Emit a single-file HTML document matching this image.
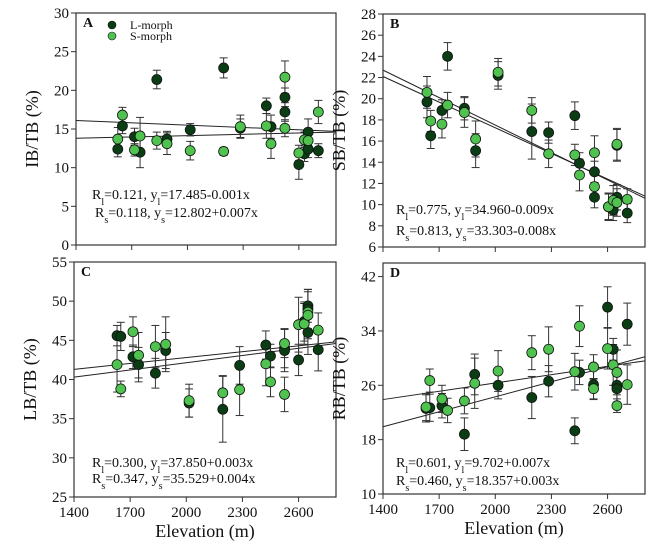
<!DOCTYPE html>
<html><head><meta charset="utf-8"><style>
body{margin:0;background:#fff}
svg{display:block;font-family:"Liberation Serif",serif}
</style></head><body>
<svg id="chart" width="670" height="547" viewBox="0 0 670 547"></svg>
<script>
// shared
const xTicks=[1400,1700,2000,2300,2600];
// Panel A
const aLx=[1625,1650,1715,1745,1835,1890,2015,2195,2285,2425,2450,2525,2525,2600,2630,2650,2650,2705];
const aLy=[12.4,15.4,14.0,12.0,21.4,13.7,14.9,22.9,15.1,18.0,15.3,19.1,17.2,10.4,11.8,12.4,14.6,12.2];
const aLe=[1.0,1.0,1.1,2.0,1.2,1.0,0.8,1.3,1.2,1.0,1.5,1.2,1.2,1.9,1.0,1.1,1.7,0.9];
const aSx=[1625,1650,1715,1745,1835,1890,2015,2195,2285,2425,2450,2525,2525,2600,2630,2650,2705];
const aSy=[13.7,16.8,12.3,14.1,13.5,13.1,12.2,12.1,15.3,15.4,13.1,21.7,15.1,11.9,13.6,13.5,17.2];
const aSe=[1.5,1.0,0.8,2.4,1.1,1.4,1.2,0.5,1.5,1.6,1.9,2.1,1.1,1.0,1.0,1.2,1.5];
const aLine=[[16.1,14.7],[13.8,14.6]];
const aYTicks=[0,5,10,15,20,25,30];
// Panel B
const bLx=[1635,1655,1715,1745,1835,1895,2015,2195,2285,2425,2450,2530,2530,2605,2630,2650,2650,2705];
const bLy=[19.7,16.5,18.9,24.0,19.1,15.1,22.2,16.9,16.8,18.4,13.9,13.1,10.7,9.8,9.5,10.7,15.6,9.2];
const bLe=[1.5,1.2,1.0,1.3,1.1,1.6,1.3,2.6,1.0,1.3,1.0,1.0,1.0,1.2,1.0,1.2,1.5,0.9];
const bSx=[1635,1655,1715,1745,1835,1895,2015,2195,2285,2425,2450,2530,2530,2605,2630,2650,2650,2705];
const bSy=[20.6,17.9,17.6,19.4,18.7,16.2,22.5,18.9,14.8,14.7,12.8,14.9,11.7,9.8,10.4,10.2,15.7,10.5];
const bSe=[1.5,1.0,1.3,1.2,1.4,1.7,1.3,1.2,1.3,1.0,1.5,1.6,1.2,1.3,1.4,1.3,1.5,1.0];
const bLine=[[22.7,10.6],[22.1,10.8]];
const bYTicks=[6,8,10,12,14,16,18,20,22,24,26,28];
// Panel C
const cLx=[1630,1650,1715,1745,1835,1890,2015,2195,2285,2425,2450,2525,2525,2600,2630,2650,2650,2650,2705];
const cLy=[45.6,45.5,42.9,41.9,40.8,43.7,37.0,36.2,41.8,44.4,43.0,44.0,43.7,42.5,47.4,49.4,49.0,46.0,43.8];
const cLe=[1.3,1.8,1.5,2.2,1.9,2.3,1.8,4.2,2.4,1.8,1.5,2.5,2.7,2.0,2.5,2.1,2.5,2.8,2.7];
const cSx=[1630,1650,1715,1745,1835,1890,2015,2195,2285,2425,2450,2525,2525,2600,2630,2650,2650,2705];
const cSy=[41.9,38.8,46.1,43.1,44.2,44.5,37.3,38.3,38.7,42.0,39.7,44.6,38.1,47.0,47.1,48.6,48.2,46.3];
const cSe=[3.5,1.0,1.9,2.9,2.7,3.5,2.1,2.2,3.3,2.8,1.9,1.8,2.2,3.5,2.6,2.9,3.0,2.2];
const cLine=[[41.3,44.8],[40.3,44.6]];
const cYTicks=[25,30,35,40,45,50,55];
// Panel D
const dLx=[1630,1650,1715,1835,1890,2015,2195,2285,2425,2450,2525,2600,2630,2650,2650,2705];
const dLy=[22.6,22.7,23.0,18.8,27.6,26.0,24.2,26.6,19.3,27.9,26.1,37.5,31.3,26.0,25.5,35.0];
const dLe=[2.0,2.0,1.8,2.4,3.0,2.0,3.1,2.3,1.9,1.8,2.2,3.0,1.6,2.5,2.0,3.1];
const dSx=[1630,1650,1715,1745,1835,1890,2015,2195,2285,2425,2450,2525,2525,2600,2630,2650,2650,2705];
const dSy=[22.8,26.7,24.0,22.3,23.7,26.3,28.1,30.8,31.3,28.0,34.7,28.7,25.5,31.4,29.0,27.9,23.0,26.1];
const dSe=[2.0,1.7,2.0,1.8,1.9,3.7,3.0,2.5,3.3,2.7,3.0,1.8,1.5,3.0,3.0,3.3,1.0,2.9];
const dLine=[[23.9,29.6],[19.9,30.2]];
const dYTicks=[10,18,26,34,42];

const svg=document.getElementById('chart');
const NS='http://www.w3.org/2000/svg';
function mk(tag,attrs,parent){const e=document.createElementNS(NS,tag);for(const k in attrs)e.setAttribute(k,attrs[k]);(parent||svg).appendChild(e);return e;}
const DARK='#0b3d14',LIGHT='#4fc24f';

function panel(id,box,ymin,ymax,yticks,L,S,lines,ytitle,letter,ann,annPos,xlabel,legend){
  const g=mk('g',{});
  
  
  const xs=v=>box.x0+(v-1400)/(2800-1400)*(box.x1-box.x0);
  const ys=v=>box.y1-(v-ymin)/(ymax-ymin)*(box.y1-box.y0);
  const frame=mk('rect',{x:box.x0,y:box.y0,width:box.x1-box.x0,height:box.y1-box.y0,fill:'none',stroke:'#333','stroke-width':1.2},g);
  
  
  yticks.forEach(t=>{
    mk('line',{x1:box.x0-5,x2:box.x0,y1:ys(t),y2:ys(t),stroke:'#333'},g);
    const tx=mk('text',{x:box.x0-7,y:ys(t)+5,'text-anchor':'end','font-size':15,fill:'#111'},g);
    tx.textContent=t;
    
    
  });
  xTicks.forEach(t=>{
    mk('line',{x1:xs(t),x2:xs(t),y1:box.y1,y2:box.y1+5,stroke:'#333'},g);
    if(xlabel){
      const tx=mk('text',{x:xs(t),y:box.y1+20,'text-anchor':'middle','font-size':15,fill:'#111'},g);
      tx.textContent=t;
      
      
    }
  });
  lines.forEach((ln,i)=>{
    const l=mk('line',{x1:xs(1400),y1:ys(ln[0]),x2:xs(2800),y2:ys(ln[1]),stroke:'#222','stroke-width':1},g);
    
    
  });
  [[L,DARK,'l-morph'],[S,LIGHT,'s-morph']].forEach(([s,col,nm])=>{
    s[0].forEach((x,i)=>{
      const cx=xs(x),cy=ys(s[1][i]),e=s[2][i];
      mk('line',{x1:cx,x2:cx,y1:ys(s[1][i]+e),y2:ys(s[1][i]-e),stroke:'#333'},g);
      mk('line',{x1:cx-4,x2:cx+4,y1:ys(s[1][i]+e),y2:ys(s[1][i]+e),stroke:'#333'},g);
      mk('line',{x1:cx-4,x2:cx+4,y1:ys(s[1][i]-e),y2:ys(s[1][i]-e),stroke:'#333'},g);
    });
  });
  [[L,DARK,'l-morph'],[S,LIGHT,'s-morph']].forEach(([s,col,nm])=>{
    s[0].forEach((x,i)=>{
      const c=mk('circle',{cx:xs(x),cy:ys(s[1][i]),r:5,fill:col,stroke:'#111','stroke-width':0.8},g);
      
      
    });
  });
  const lt=mk('text',{x:box.x0+7,y:box.y0+14,'font-size':14,'font-weight':'bold',fill:'#111'},g);
  lt.textContent=letter;
  
  
  const cy=(box.y0+box.y1)/2;
  const yt=mk('text',{x:box.x0-38,y:cy,'text-anchor':'middle','font-size':18,fill:'#111',transform:`rotate(-90 ${box.x0-38} ${cy})`},g);
  yt.textContent=ytitle;
  
  
  ann.forEach((a,i)=>{
    const t=mk('text',{x:annPos[i][0],y:annPos[i][1],'font-size':14,fill:'#111'},g);
    t.innerHTML=a;
    
    
  });
  if(xlabel){
    const xt=mk('text',{x:(box.x0+box.x1)/2,y:box.y1+40,'text-anchor':'middle','font-size':18,fill:'#111'},g);
    xt.textContent='Elevation (m)';
    
    
  }
  if(legend){
    [[DARK,'L-morph',25],[LIGHT,'S-morph',36]].forEach(([c,t,y])=>{
      const lg=mk('g',{},g);
      
      
      mk('circle',{cx:112,cy:y,r:4,fill:c,stroke:'#111','stroke-width':0.6},lg);
      const tt=mk('text',{x:130,y:y+4,'font-size':12,fill:'#111'},lg);
      tt.textContent=t;
    });
  }
}
const sub=(a,b)=>`${a}<tspan baseline-shift="sub" font-size="10">${b}</tspan>`;
panel('a',{x0:76,x1:336,y0:13,y1:245},0,30,aYTicks,[aLx,aLy,aLe],[aSx,aSy,aSe],aLine,'IB/TB (%)','A',
 [sub('R','l')+'=0.121, '+sub('y','l')+'=17.485-0.001x',sub('R','s')+'=0.118, '+sub('y','s')+'=12.802+0.007x'],[[92,199],[95,217]],false,true);
panel('b',{x0:383,x1:645,y0:14,y1:247},6,28,bYTicks,[bLx,bLy,bLe],[bSx,bSy,bSe],bLine,'SB/TB (%)','B',
 [sub('R','l')+'=0.775, '+sub('y','l')+'=34.960-0.009x',sub('R','s')+'=0.813, '+sub('y','s')+'=33.303-0.008x'],[[396,214],[396,235]],false,false);
panel('c',{x0:74,x1:336,y0:262,y1:497},25,55,cYTicks,[cLx,cLy,cLe],[cSx,cSy,cSe],cLine,'LB/TB (%)','C',
 [sub('R','l')+'=0.300, '+sub('y','l')+'=37.850+0.003x',sub('R','s')+'=0.347, '+sub('y','s')+'=35.529+0.004x'],[[92,467],[92,483]],true,false);
panel('d',{x0:383,x1:645,y0:263,y1:494},10,44,dYTicks,[dLx,dLy,dLe],[dSx,dSy,dSe],dLine,'RB/TB (%)','D',
 [sub('R','l')+'=0.601, '+sub('y','l')+'=9.702+0.007x',sub('R','s')+'=0.460, '+sub('y','s')+'=18.357+0.003x'],[[396,467],[396,485]],true,false);
</script>
</body></html>
